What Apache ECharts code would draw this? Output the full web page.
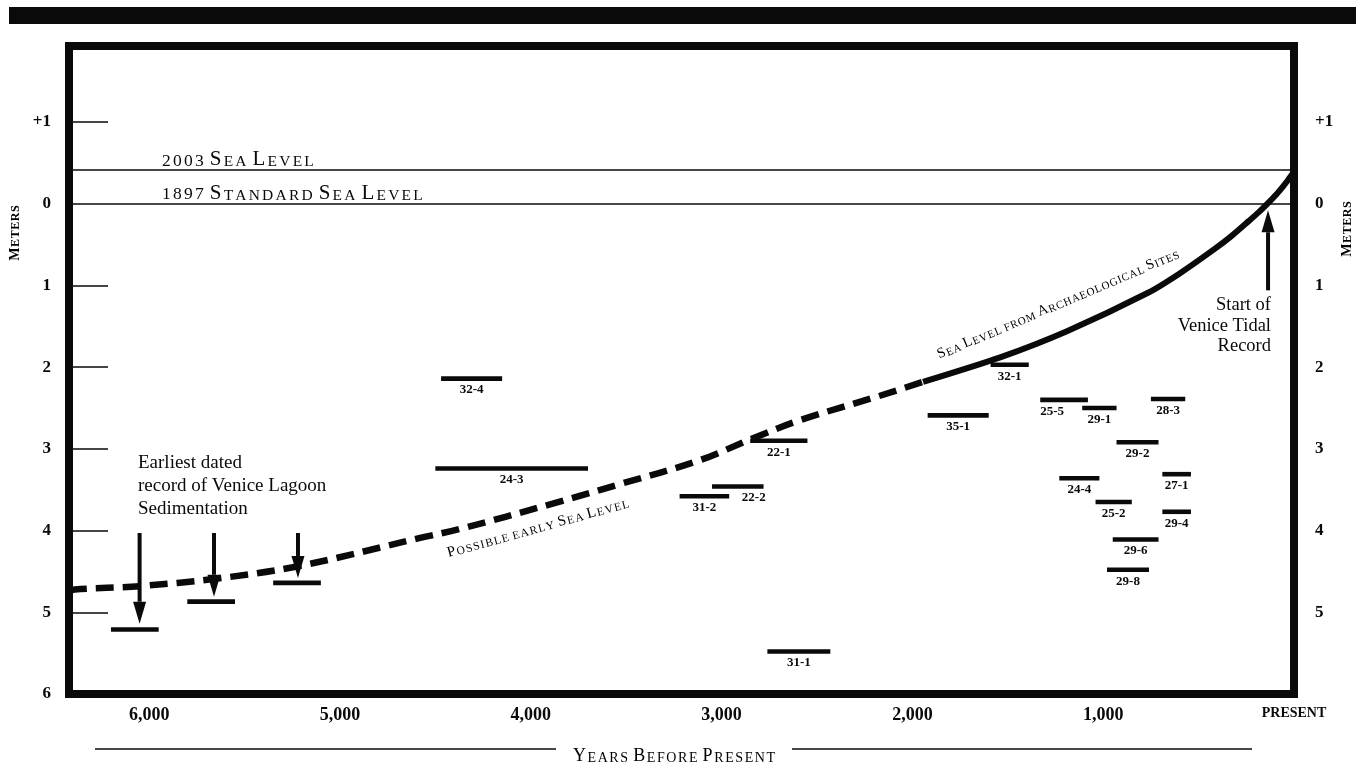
<!DOCTYPE html>
<html>
<head>
<meta charset="utf-8">
<script src="https://cdn.jsdelivr.net/npm/echarts@6/dist/echarts.min.js"></script>
<style>
  html, body { margin: 0; padding: 0; background: #fff; }
  #chart { width: 1356px; height: 765px; }
</style>
</head>
<body>
<div id="chart"></div>
<script>
// Sea level through time: [years before present, metres below the 1897 datum]
const earlySeaLevel = [
  [6420, 4.74], [6390, 4.72], [6050, 4.68], [5655, 4.59], [5225, 4.44],
  [4580, 4.09], [4370, 3.98], [3885, 3.67], [3530, 3.43], [3115, 3.14],
  [2835, 2.87], [2590, 2.65], [2170, 2.35], [1944, 2.18]
];
const archaeologicalSeaLevel = [
  [1944, 2.18], [1540, 1.88], [1190, 1.56], [765, 1.09], [597, 0.85],
  [414, 0.55], [325, 0.39], [236, 0.21], [183, 0.10], [131, -0.02],
  [94, -0.11], [58, -0.21], [31, -0.29], [0, -0.39]
];

// Reference levels (metres, positive = below datum)
const datum1897 = 0;
const seaLevel2003 = -0.41;

// Dated samples: age span (years BP) and depth (m)
const sampleIds  = ['32-4', '24-3', '22-1', '22-2', '31-2', '31-1', '32-1', '35-1', '25-5',
                    '29-1', '28-3', '29-2', '24-4', '27-1', '25-2', '29-4', '29-6', '29-8'];
const sampleOld   = [4470, 4500, 2850, 3050, 3220, 2760, 1590, 1920, 1330,
                     1110, 750, 930, 1230, 690, 1040, 690, 950, 980];
const sampleYoung = [4150, 3700, 2550, 2780, 2960, 2430, 1390, 1600, 1080,
                     930, 570, 710, 1020, 540, 850, 540, 710, 760];
const sampleDepth = [2.14, 3.24, 2.90, 3.46, 3.58, 5.48, 1.97, 2.59, 2.40,
                     2.50, 2.39, 2.92, 3.36, 3.31, 3.65, 3.77, 4.11, 4.48];

// Earliest lagoon sedimentation records
const sedimentOld   = [6200, 5800, 5350];
const sedimentYoung = [5950, 5550, 5100];
const sedimentDepth = [5.21, 4.87, 4.64];

// Pointer arrows: [age, from depth, to depth]
const sedimentArrowAge  = [6050, 5660, 5220];
const sedimentArrowFrom = [4.03, 4.03, 4.03];
const sedimentArrowTo   = [5.14, 4.81, 4.58];
const tidalArrowAge  = [136];
const tidalArrowFrom = [1.06];
const tidalArrowTo   = [0.08];

// Axis ticks
const yearTicks  = [6000, 5000, 4000, 3000, 2000, 1000, 0];
const metreLabels = [-1, 0, 1, 2, 3, 4, 5, 6];
const metreLabelsRight = [-1, 0, 1, 2, 3, 4, 5];
const metreTicks = [-1, 1, 2, 3, 4, 5];

// Sample labels that sit off-centre to avoid crowding (px)
const labelNudge = { '22-2': 16, '25-5': -12 };

const SERIF = '"Liberation Serif", "DejaVu Serif", serif';
const INK = '#0a0a0a';

// Small-capitals text built from rich-text fragments
function smallCaps(s) {
  let out = '';
  for (const ch of s) {
    if (ch === ' ') { out += '{s| }'; continue; }
    if (/[0-9]/.test(ch)) { out += '{n|' + ch + '}'; continue; }
    const big = ch === ch.toUpperCase() && ch !== ch.toLowerCase();
    out += (big ? '{K|' : '{k|') + ch.toUpperCase() + '}';
  }
  return out;
}
function capsRich(big, small, gap, weight) {
  const base = { fontFamily: SERIF, color: INK, fontWeight: weight || 'normal', verticalAlign: 'bottom' };
  return {
    K: Object.assign({}, base, { fontSize: big, padding: [0, gap, 0, gap] }),
    k: Object.assign({}, base, { fontSize: small, padding: [0, gap, 0, gap] }),
    n: Object.assign({}, base, { fontSize: small + 2, padding: [0, gap, 0, gap] }),
    s: Object.assign({}, base, { fontSize: small })
  };
}

function barItem(labels) {
  return function (params, api) {
    const a = api.coord([api.value(0), api.value(2)]);
    const b = api.coord([api.value(1), api.value(2)]);
    const x0 = Math.min(a[0], b[0]);
    const w = Math.abs(b[0] - a[0]);
    const children = [{
      type: 'rect',
      shape: { x: x0, y: a[1] - 2.3, width: w, height: 4.6 },
      style: { fill: INK }
    }];
    if (labels) {
      const id = labels[params.dataIndex];
      children.push({
        type: 'text', x: x0 + w / 2 + (labelNudge[id] || 0), y: a[1] + 5,
        style: { text: id, align: 'center', verticalAlign: 'top',
                 font: 'bold 13px ' + SERIF, fill: INK }
      });
    }
    return { type: 'group', children };
  };
}

function arrowItem(params, api) {
  const p0 = api.coord([api.value(0), api.value(1)]);
  const p1 = api.coord([api.value(0), api.value(2)]);
  const dir = p1[1] > p0[1] ? 1 : -1;
  const headLen = 22, headW = 13, shaftW = 4;
  const neck = p1[1] - dir * headLen;
  return {
    type: 'group',
    children: [
      { type: 'rect',
        shape: { x: p0[0] - shaftW / 2, y: Math.min(p0[1], neck), width: shaftW, height: Math.abs(neck - p0[1]) },
        style: { fill: INK } },
      { type: 'polygon',
        shape: { points: [[p1[0] - headW / 2, neck], [p1[0] + headW / 2, neck], [p1[0], p1[1]]] },
        style: { fill: INK } }
    ]
  };
}

const metreFmt = v => (v < 0 ? '+' + (-v) : String(v));
const axisFont = { fontFamily: SERIF, fontWeight: 'bold', fontSize: 17, color: INK };

const chart = echarts.init(document.getElementById('chart'), null, { renderer: 'canvas' });

chart.setOption({
  animation: false,
  backgroundColor: '#fff',
  grid: {
    left: 69, top: 46, right: 62, bottom: 71,
    show: true, borderWidth: 8, borderColor: INK, backgroundColor: 'transparent',
    outerBoundsMode: 'none'
  },
  xAxis: {
    type: 'value', inverse: true, min: 0, max: 6420, position: 'bottom',
    axisLine: { show: false, onZero: false }, axisTick: { show: false }, splitLine: { show: false },
    axisLabel: Object.assign({}, axisFont, {
      customValues: yearTicks,
      margin: 12,
      fontSize: 18,
      formatter: v => (v === 0 ? '{p|PRESENT}' : v.toLocaleString('en-US')),
      rich: { p: { fontFamily: SERIF, fontWeight: 'bold', fontSize: 14, color: INK } }
    })
  },
  yAxis: [
    {
      type: 'value', inverse: true, min: -1.93, max: 6, position: 'left',
      axisLine: { show: false, onZero: false }, splitLine: { show: false },
      axisTick: { show: true, inside: true, length: 39, customValues: metreTicks,
                  lineStyle: { color: INK, width: 1.5 } },
      axisLabel: Object.assign({}, axisFont, { customValues: metreLabels, margin: 18, formatter: metreFmt })
    },
    {
      type: 'value', inverse: true, min: -1.93, max: 6, position: 'right',
      axisLine: { show: false, onZero: false }, splitLine: { show: false }, axisTick: { show: false },
      axisLabel: Object.assign({}, axisFont, { customValues: metreLabelsRight, margin: 21, formatter: metreFmt })
    }
  ],
  series: [
    {
      type: 'line', name: 'Possible early sea level', data: earlySeaLevel,
      smooth: 0.35, showSymbol: false, silent: true,
      lineStyle: { color: INK, width: 6.5, type: [18, 9], cap: 'butt' }
    },
    {
      type: 'line', name: 'Sea level from archaeological sites', data: archaeologicalSeaLevel,
      smooth: 0.25, showSymbol: false, silent: true,
      lineStyle: { color: INK, width: 6 },
      markLine: {
        silent: true, symbol: ['none', 'none'], animation: false,
        lineStyle: { color: INK, width: 1.5, type: 'solid' },
        label: { position: 'insideEndTop', distance: 0, padding: [0, 0, 0, 92],
                 rich: capsRich(21, 15.5, 1.1) },
        data: [
          { yAxis: seaLevel2003, label: { formatter: () => smallCaps('2003 Sea Level') } },
          { yAxis: datum1897, label: { formatter: () => smallCaps('1897 Standard Sea Level') } }
        ]
      }
    },
    {
      type: 'custom', name: 'Dated samples', silent: true,
      renderItem: barItem(sampleIds),
      encode: { x: [0, 1], y: 2 },
      data: sampleIds.map((id, i) => [sampleOld[i], sampleYoung[i], sampleDepth[i]])
    },
    {
      type: 'custom', name: 'Earliest sedimentation', silent: true,
      renderItem: barItem(null),
      encode: { x: [0, 1], y: 2 },
      data: sedimentOld.map((v, i) => [v, sedimentYoung[i], sedimentDepth[i]])
    },
    {
      type: 'custom', name: 'Arrows', silent: true, z: 3,
      renderItem: arrowItem,
      encode: { x: 0, y: [1, 2] },
      data: sedimentArrowAge.map((v, i) => [v, sedimentArrowFrom[i], sedimentArrowTo[i]])
        .concat(tidalArrowAge.map((v, i) => [v, tidalArrowFrom[i], tidalArrowTo[i]]))
    }
  ],
  graphic: [
    // heading rule
    { type: 'rect', shape: { x: 9, y: 7, width: 1347, height: 17 }, style: { fill: INK } },
    // axis titles
    { type: 'text', x: 15, y: 233, rotation: Math.PI / 2,
      style: { text: smallCaps('Meters'), rich: capsRich(14, 12, 0.3, 'bold'), align: 'center', verticalAlign: 'middle' } },
    { type: 'text', x: 1347, y: 229, rotation: Math.PI / 2,
      style: { text: smallCaps('Meters'), rich: capsRich(14, 12, 0.3, 'bold'), align: 'center', verticalAlign: 'middle' } },
    { type: 'text', x: 674, y: 765,
      style: { text: smallCaps('Years Before Present'), rich: capsRich(18, 14, 0.8), align: 'center', verticalAlign: 'bottom' } },
    { type: 'line', shape: { x1: 95, y1: 749, x2: 556, y2: 749 }, style: { stroke: INK, lineWidth: 1.5 } },
    { type: 'line', shape: { x1: 792, y1: 749, x2: 1252, y2: 749 }, style: { stroke: INK, lineWidth: 1.5 } },
    // curve captions
    { type: 'text', x: 538, y: 528, rotation: 15.5 * Math.PI / 180,
      style: { text: smallCaps('Possible early Sea Level'), rich: capsRich(15, 11.5, 0.6), align: 'center', verticalAlign: 'middle' } },
    { type: 'text', x: 1058, y: 304, rotation: 23 * Math.PI / 180,
      style: { text: smallCaps('Sea Level from Archaeological Sites'), rich: capsRich(14.5, 11, 0.4), align: 'center', verticalAlign: 'middle' } },
    // notes
    { type: 'text', x: 138, y: 452,
      style: { text: 'Earliest dated\nrecord of Venice Lagoon\nSedimentation', font: '19px ' + SERIF,
               lineHeight: 23, fill: INK, align: 'left', verticalAlign: 'top' } },
    { type: 'text', x: 1271, y: 295,
      style: { text: 'Start of\nVenice Tidal\nRecord', font: '18.5px ' + SERIF,
               lineHeight: 20.5, fill: INK, align: 'right', verticalAlign: 'top' } }
  ]
});
</script>
</body>
</html>
